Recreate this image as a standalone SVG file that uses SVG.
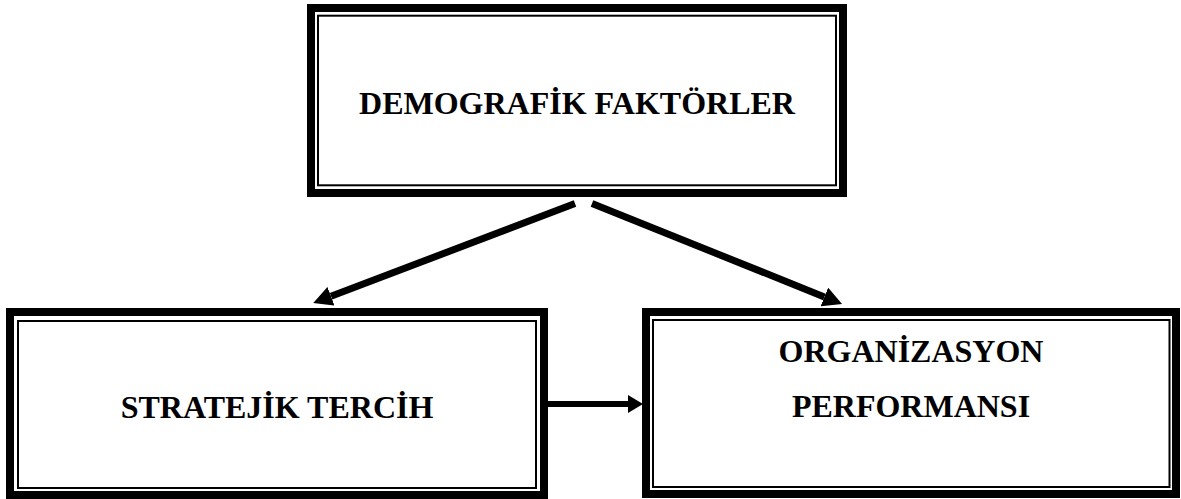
<svg xmlns="http://www.w3.org/2000/svg" width="1181" height="499" viewBox="0 0 1181 499">
<style>
.outer{fill:none;stroke:#000;stroke-width:8}
.inner{fill:none;stroke:#000;stroke-width:2}
.lbl{font-family:"Liberation Serif","Times New Roman",serif;font-weight:bold;font-size:32px;fill:#000;text-anchor:middle}
.conn{stroke:#000;fill:none;stroke-linecap:butt}
</style>
<defs>
<marker id="headD" markerUnits="userSpaceOnUse" viewBox="0 0 19 20" refX="0" refY="10" markerWidth="19" markerHeight="20" orient="auto">
<path d="M0,0 L19,10 L0,20 Z" fill="#000"/>
</marker>
<marker id="headH" markerUnits="userSpaceOnUse" viewBox="0 0 15 18" refX="0" refY="9" markerWidth="15" markerHeight="18" orient="auto">
<path d="M0,0 L15,9 L0,18 Z" fill="#000"/>
</marker>
</defs>
<rect width="1181" height="499" fill="#fff"/>
<g id="node-demografik">
<rect class="outer" x="311" y="8" width="532" height="185"/>
<rect class="inner" x="318" y="15.7" width="518" height="169.6"/>
<text class="lbl" x="577" y="114">DEMOGRAFİK FAKTÖRLER</text>
</g>
<g id="node-strateji">
<rect class="outer" x="10" y="312" width="534" height="183"/>
<rect class="inner" x="18" y="321" width="518" height="167"/>
<text class="lbl" x="277" y="418">STRATEJİK TERCİH</text>
</g>
<g id="node-performans">
<rect class="outer" x="646" y="312" width="530" height="182"/>
<rect class="inner" x="653" y="320" width="516.5" height="167"/>
<text class="lbl" x="911" y="362">ORGANİZASYON</text>
<text class="lbl" x="911" y="417">PERFORMANSI</text>
</g>
<g id="connectors">
<line class="conn" x1="575" y1="203.5" x2="331" y2="296.3" stroke-width="7" marker-end="url(#headD)"/>
<line class="conn" x1="592" y1="203.5" x2="824.4" y2="296.9" stroke-width="7" marker-end="url(#headD)"/>
<line class="conn" x1="548" y1="404" x2="628" y2="404" stroke-width="6" marker-end="url(#headH)"/>
</g>
</svg>
